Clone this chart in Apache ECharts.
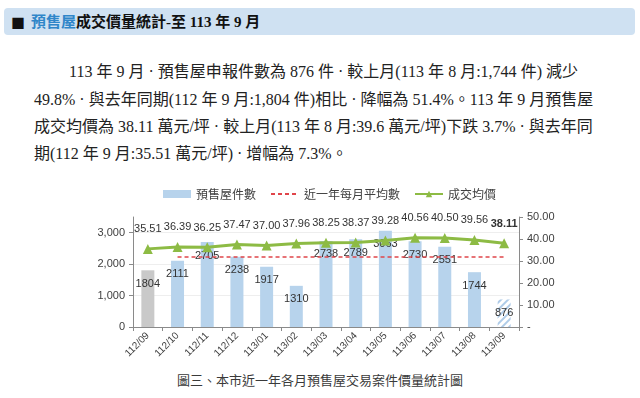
<!DOCTYPE html>
<html>
<head>
<meta charset="utf-8">
<script src="https://cdn.jsdelivr.net/npm/echarts@6/dist/echarts.min.js"></script>
<style>
  html, body { margin: 0; padding: 0; background: #fff; }
  body { width: 640px; height: 398px; position: relative; overflow: hidden; }
  .head { position: absolute; left: 4px; top: 8px; width: 631px; height: 27px; background: #cfe1f2; border-radius: 4px; }
  .head .sq { position: absolute; left: 7px; top: 4px; font: 14px "Noto Sans CJK TC"; color: #111; }
  .head .tt { position: absolute; left: 27px; top: 2px; font: bold 15px "Liberation Serif", "Noto Sans CJK TC"; color: #111; }
  .head .tt span { color: #2f86c9; }
  .ln { position: absolute; left: 34px; width: 544px; font: 16px "Liberation Serif", "Noto Sans CJK TC"; color: #222;
        text-align: justify; text-align-last: justify; white-space: nowrap; line-height: 20px; }
  .cap { position: absolute; left: 0; width: 640px; top: 370px; text-align: center; font: 13px "Noto Sans CJK TC"; color: #3a3a3a; }
  #chart { position: absolute; left: 0; top: 170px; width: 640px; height: 200px; }
</style>
</head>
<body>
<div class="head"><span class="sq">■</span><span class="tt"><span>預售屋</span>成交價量統計-至 113 年 9 月</span></div>
<div class="ln" style="top:62px;left:69px;width:509px;white-space:normal">113 年 9 月 · 預售屋申報件數為 876 件 · 較上月(113 年 8 月:1,744 件) 減少</div>
<div class="ln" style="top:90px">49.8% · 與去年同期(112 年 9 月:1,804 件)相比 · 降幅為 51.4%。113 年 9 月預售屋</div>
<div class="ln" style="top:117px">成交均價為 38.11 萬元/坪 · 較上月(113 年 8 月:39.6 萬元/坪)下跌 3.7% · 與去年同</div>
<div class="ln" style="top:144px;text-align-last:left">期(112 年 9 月:35.51 萬元/坪) · 增幅為 7.3%。</div>
<div id="chart"></div>
<div class="cap">圖三、本市近一年各月預售屋交易案件價量統計圖</div>
<script>
var months = ['112/09','112/10','112/11','112/12','113/01','113/02','113/03','113/04','113/05','113/06','113/07','113/08','113/09'];
var counts = [1804, 2111, 2705, 2238, 1917, 1310, 2738, 2789, 3063, 2730, 2551, 1744, 876];
var prices = [35.51, 36.39, 36.25, 37.47, 37.00, 37.96, 38.25, 38.37, 39.28, 40.56, 40.50, 39.56, 38.11];
var avgMonthly = 2231;   // 近一年每月平均數 (112/10 ~ 113/09)

var numFont = 'Liberation Sans';
var cjkFont = 'Noto Sans CJK TC';

var barData = counts.map(function (v, i) {
  if (i === 0) return { value: v, itemStyle: { color: '#c9c9c9' } };
  if (i === counts.length - 1) {
    return {
      value: v,
      itemStyle: {
        color: '#ffffff',
        decal: { symbol: 'rect', symbolSize: 1, color: '#aecbe8', dashArrayX: [1, 0], dashArrayY: [2, 3], rotation: -Math.PI / 4 }
      }
    };
  }
  return v;
});
var avgData = months.map(function (m, i) { return i === 0 ? null : avgMonthly; });
var priceData = prices.map(function (v, i) {
  return i === prices.length - 1 ? { value: v, label: { fontWeight: 'bold' } } : v;
});

var myChart = echarts.init(document.getElementById('chart'));
myChart.setOption({
  animation: false,
  textStyle: { fontFamily: numFont },
  legend: {
    top: 13,
    left: 158,
    itemGap: 14,
    itemWidth: 28,
    itemHeight: 8,
    textStyle: { fontFamily: cjkFont, fontSize: 12, color: '#404040' },
    data: [
      { name: '預售屋件數', icon: 'rect' },
      { name: '近一年每月平均數', itemStyle: { opacity: 0 } },
      { name: '成交均價' }
    ]
  },
  grid: { left: 133, right: 121, top: 47, bottom: 43 },
  xAxis: {
    type: 'category',
    data: months,
    axisLine: { lineStyle: { color: '#8a8a8a' } },
    axisTick: { show: true, length: 4, lineStyle: { color: '#8a8a8a' } },
    axisLabel: { rotate: 45, fontSize: 10, color: '#404040', margin: 7 }
  },
  yAxis: [
    {
      type: 'value', min: 0, max: 3500, interval: 1000,
      axisLine: { show: true, lineStyle: { color: '#8a8a8a' } },
      axisTick: { show: true, length: 4, lineStyle: { color: '#8a8a8a' } },
      axisLabel: {
        fontSize: 11, color: '#404040', margin: 8, showMaxLabel: false,
        formatter: function (v) { return v === 3500 ? '' : v.toLocaleString('en-US'); }
      },
      splitLine: { show: true, showMaxLine: false, lineStyle: { color: '#eeeeee' } }
    },
    {
      type: 'value', min: 0, max: 50, interval: 10,
      axisLine: { show: true, lineStyle: { color: '#8a8a8a' } },
      axisTick: { show: true, length: 4, lineStyle: { color: '#8a8a8a' } },
      axisLabel: {
        fontSize: 11, color: '#404040', margin: 8,
        formatter: function (v) { return v === 0 ? '-' : v.toFixed(2); }
      },
      splitLine: { show: false }
    }
  ],
  series: [
    {
      name: '預售屋件數',
      type: 'bar',
      barWidth: 13,
      itemStyle: { color: '#b7d3ec' },
      label: { show: true, position: 'insideTop', distance: 8, fontSize: 11, color: '#333' },
      data: barData
    },
    {
      name: '近一年每月平均數',
      type: 'line',
      symbol: 'none',
      z: 3,
      lineStyle: { color: '#e0454a', width: 1.5, type: [4, 3] },
      itemStyle: { color: '#e0454a' },
      data: avgData
    },
    {
      name: '成交均價',
      type: 'line',
      yAxisIndex: 1,
      symbol: 'triangle',
      symbolSize: 10,
      z: 4,
      lineStyle: { color: '#8dbb44', width: 3 },
      itemStyle: { color: '#8dbb44' },
      label: {
        show: true, position: 'top', distance: 9, fontSize: 11, color: '#333',
        formatter: function (p) { return p.value.toFixed(2); }
      },
      data: priceData
    }
  ]
});
</script>
</body>
</html>
